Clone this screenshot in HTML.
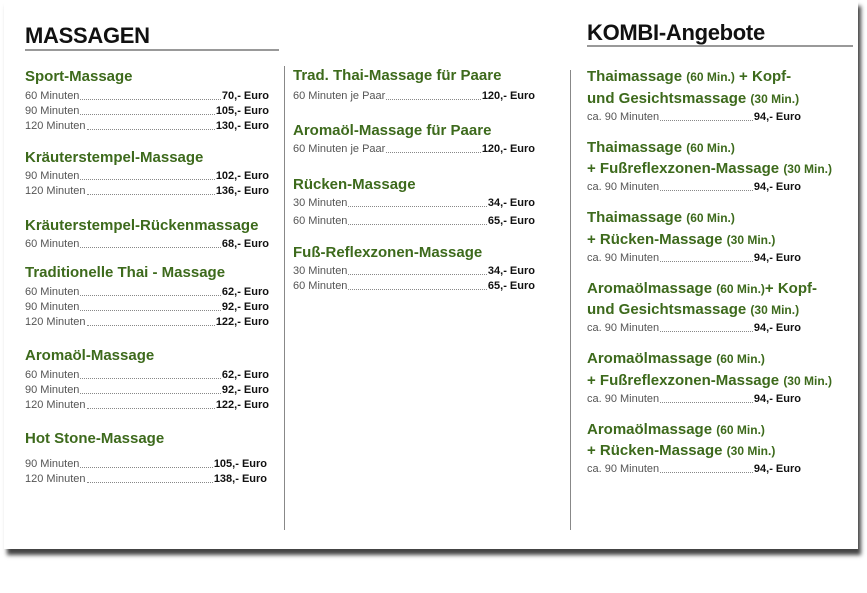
<!DOCTYPE html>
<html><head><meta charset="utf-8">
<style>
body{margin:0;background:#fff;}
#p{position:relative;width:867px;height:593px;overflow:hidden;font-family:"Liberation Sans",sans-serif;}
.card{position:absolute;left:4px;top:0;width:854px;height:549px;background:#fff;box-shadow:3px 6px 4px #444;}
.t{position:absolute;font-weight:bold;color:#111;font-size:22px;line-height:28px;letter-spacing:-0.3px;}
.ul{position:absolute;height:2px;background:#999;}
.vl{position:absolute;width:1px;background:#888;}
.h{position:absolute;font-weight:bold;color:#3d6a1c;font-size:15px;line-height:20px;white-space:nowrap;}
.h small{font-size:12px;}
.r{position:absolute;display:flex;font-size:11px;line-height:14px;color:#555;white-space:nowrap;}
.r .d{flex:1;border-bottom:1px dotted #888;margin:0 1px 3px 1px;}
.r b{color:#111;}
</style></head><body><div id="p">
<div class="card"></div>
<div class="t" style="left:25px;top:22px">MASSAGEN</div>
<div class="ul" style="left:25px;top:49px;width:254px"></div>
<div class="t" style="left:587px;top:19px">KOMBI-Angebote</div>
<div class="ul" style="left:587px;top:45px;width:266px"></div>
<div class="vl" style="left:284px;top:66px;height:464px"></div>
<div class="vl" style="left:570px;top:70px;height:460px"></div>

<!-- col1 -->
<div class="h" style="left:25px;top:67px">Sport-Massage</div>
<div class="r" style="left:25px;top:89px;width:244px"><span>60 Minuten</span><span class="d"></span><b>70,- Euro</b></div>
<div class="r" style="left:25px;top:104px;width:244px"><span>90 Minuten</span><span class="d"></span><b>105,- Euro</b></div>
<div class="r" style="left:25px;top:119px;width:244px"><span>120 Minuten</span><span class="d"></span><b>130,- Euro</b></div>
<div class="h" style="left:25px;top:148px">Kräuterstempel-Massage</div>
<div class="r" style="left:25px;top:169px;width:244px"><span>90 Minuten</span><span class="d"></span><b>102,- Euro</b></div>
<div class="r" style="left:25px;top:184px;width:244px"><span>120 Minuten</span><span class="d"></span><b>136,- Euro</b></div>
<div class="h" style="left:25px;top:216px">Kräuterstempel-Rückenmassage</div>
<div class="r" style="left:25px;top:237px;width:244px"><span>60 Minuten</span><span class="d"></span><b>68,- Euro</b></div>
<div class="h" style="left:25px;top:263px">Traditionelle Thai - Massage</div>
<div class="r" style="left:25px;top:285px;width:244px"><span>60 Minuten</span><span class="d"></span><b>62,- Euro</b></div>
<div class="r" style="left:25px;top:300px;width:244px"><span>90 Minuten</span><span class="d"></span><b>92,- Euro</b></div>
<div class="r" style="left:25px;top:315px;width:244px"><span>120 Minuten</span><span class="d"></span><b>122,- Euro</b></div>
<div class="h" style="left:25px;top:346px">Aromaöl-Massage</div>
<div class="r" style="left:25px;top:368px;width:244px"><span>60 Minuten</span><span class="d"></span><b>62,- Euro</b></div>
<div class="r" style="left:25px;top:383px;width:244px"><span>90 Minuten</span><span class="d"></span><b>92,- Euro</b></div>
<div class="r" style="left:25px;top:398px;width:244px"><span>120 Minuten</span><span class="d"></span><b>122,- Euro</b></div>
<div class="h" style="left:25px;top:429px">Hot Stone-Massage</div>
<div class="r" style="left:25px;top:457px;width:242px"><span>90 Minuten</span><span class="d"></span><b>105,- Euro</b></div>
<div class="r" style="left:25px;top:472px;width:242px"><span>120 Minuten</span><span class="d"></span><b>138,- Euro</b></div>

<!-- col2 -->
<div class="h" style="left:293px;top:66px">Trad. Thai-Massage für Paare</div>
<div class="r" style="left:293px;top:89px;width:242px"><span>60 Minuten je Paar</span><span class="d"></span><b>120,- Euro</b></div>
<div class="h" style="left:293px;top:121px">Aromaöl-Massage für Paare</div>
<div class="r" style="left:293px;top:142px;width:242px"><span>60 Minuten je Paar</span><span class="d"></span><b>120,- Euro</b></div>
<div class="h" style="left:293px;top:175px">Rücken-Massage</div>
<div class="r" style="left:293px;top:196px;width:242px"><span>30 Minuten</span><span class="d"></span><b>34,- Euro</b></div>
<div class="r" style="left:293px;top:214px;width:242px"><span>60 Minuten</span><span class="d"></span><b>65,- Euro</b></div>
<div class="h" style="left:293px;top:243px">Fuß-Reflexzonen-Massage</div>
<div class="r" style="left:293px;top:264px;width:242px"><span>30 Minuten</span><span class="d"></span><b>34,- Euro</b></div>
<div class="r" style="left:293px;top:279px;width:242px"><span>60 Minuten</span><span class="d"></span><b>65,- Euro</b></div>

<!-- col3 -->
<div class="h" style="left:587px;top:67px">Thaimassage <small>(60 Min.)</small> + Kopf-</div>
<div class="h" style="left:587px;top:89px">und Gesichtsmassage <small>(30 Min.)</small></div>
<div class="r" style="left:587px;top:110px;width:214px"><span>ca. 90 Minuten</span><span class="d"></span><b>94,- Euro</b></div>
<div class="h" style="left:587px;top:138px">Thaimassage <small>(60 Min.)</small></div>
<div class="h" style="left:587px;top:159px">+ Fußreflexzonen-Massage <small>(30 Min.)</small></div>
<div class="r" style="left:587px;top:180px;width:214px"><span>ca. 90 Minuten</span><span class="d"></span><b>94,- Euro</b></div>
<div class="h" style="left:587px;top:208px">Thaimassage <small>(60 Min.)</small></div>
<div class="h" style="left:587px;top:230px">+ Rücken-Massage <small>(30 Min.)</small></div>
<div class="r" style="left:587px;top:251px;width:214px"><span>ca. 90 Minuten</span><span class="d"></span><b>94,- Euro</b></div>
<div class="h" style="left:587px;top:279px">Aromaölmassage <small>(60 Min.)</small>+ Kopf-</div>
<div class="h" style="left:587px;top:300px">und Gesichtsmassage <small>(30 Min.)</small></div>
<div class="r" style="left:587px;top:321px;width:214px"><span>ca. 90 Minuten</span><span class="d"></span><b>94,- Euro</b></div>
<div class="h" style="left:587px;top:349px">Aromaölmassage <small>(60 Min.)</small></div>
<div class="h" style="left:587px;top:371px">+ Fußreflexzonen-Massage <small>(30 Min.)</small></div>
<div class="r" style="left:587px;top:392px;width:214px"><span>ca. 90 Minuten</span><span class="d"></span><b>94,- Euro</b></div>
<div class="h" style="left:587px;top:420px">Aromaölmassage <small>(60 Min.)</small></div>
<div class="h" style="left:587px;top:441px">+ Rücken-Massage <small>(30 Min.)</small></div>
<div class="r" style="left:587px;top:462px;width:214px"><span>ca. 90 Minuten</span><span class="d"></span><b>94,- Euro</b></div>
</div></body></html>
